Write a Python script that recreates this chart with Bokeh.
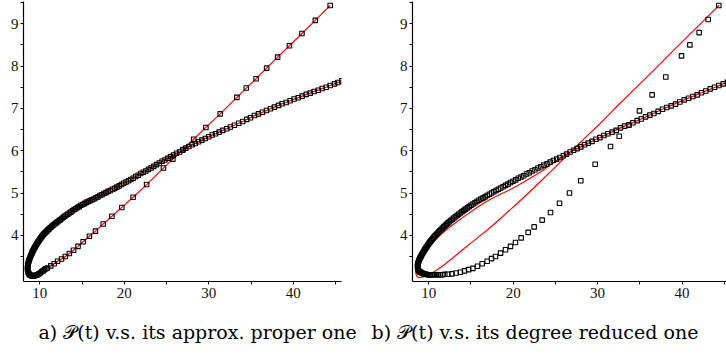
from bokeh.plotting import figure
from bokeh.layouts import row, column
from bokeh.models import FixedTicker, Range1d
from bokeh.core.properties import value
from bokeh.embed import file_html
from bokeh.resources import INLINE

# ---------------- data ----------------
# panel a: upper branch (right end -> tip), then lower branch (tip -> right end)
pa_upper_x = [45.74,45.27,44.87,44.36,43.89,43.41,42.94,42.46,41.99,41.52,41.04,40.57,40.09,39.62,39.15,38.67,38.24,37.76,37.29,36.82,36.34,35.87,35.39,34.92,34.49,34.01,33.54,33.03,32.55,32.12,31.64,
              31.22,30.80,30.39,29.98,29.58,29.18,28.79,28.40,28.02,27.64,27.27,26.90,26.54,26.18,25.83,25.48,25.14,24.80,24.47,24.14,23.81,23.49,23.17,22.86,22.55,22.24,21.94,21.64,21.35,21.06,20.77,20.49,20.21,19.93,19.66,19.39,19.12,18.86,18.60,18.34,18.09,17.84,17.59,17.35,17.11,
              16.87,16.64,16.41,16.18,15.95,15.73,15.51,15.29,15.08,14.87,14.66,14.46,14.26,14.06,13.87,13.68,13.49,13.31,13.13,12.95,12.78,12.61,12.44,12.28,12.12,11.96,11.81,11.66,11.51,11.37,11.23,11.09,10.96,10.83,10.70,10.58,10.46,10.34,10.23,10.12,10.01,9.91,9.81,9.71,9.62,9.53,9.44,9.36,9.28,9.20,9.13,9.06,8.99,8.93,8.87,8.81,8.76,8.71,8.67,8.63,8.60,8.58,8.56,8.55,8.56,8.58,8.62,8.67,8.73,8.80,8.88,8.97,9.07,9.18,9.30,9.43,9.57,9.72,9.88,10.04,10.21,10.38,10.55,10.72]
pa_upper_y = [7.65,7.61,7.58,7.54,7.50,7.47,7.43,7.40,7.36,7.33,7.29,7.25,7.22,7.18,7.14,7.11,7.07,7.03,6.99,6.95,6.91,6.87,6.83,6.78,6.74,6.69,6.65,6.60,6.56,6.52,6.48,
              6.44,6.40,6.37,6.33,6.29,6.25,6.21,6.17,6.14,6.10,6.06,6.01,5.97,5.94,5.90,5.86,5.82,5.78,5.75,5.71,5.67,5.63,5.59,5.56,5.52,5.49,5.46,5.42,5.39,5.35,5.32,5.29,5.26,5.23,5.20,5.17,5.14,5.11,5.09,5.06,5.04,5.01,4.99,4.96,4.94,
              4.91,4.89,4.86,4.84,4.82,4.80,4.78,4.75,4.73,4.71,4.68,4.66,4.63,4.61,4.58,4.55,4.53,4.50,4.48,4.45,4.43,4.40,4.37,4.35,4.32,4.30,4.28,4.25,4.23,4.20,4.18,4.15,4.13,4.10,4.08,4.05,4.03,4.00,3.97,3.94,3.91,3.88,3.85,3.82,3.79,3.76,3.73,3.70,3.67,3.64,3.61,3.58,3.55,3.52,3.49,3.46,3.43,3.40,3.37,3.34,3.31,3.28,3.25,3.22,3.19,3.16,3.13,3.11,3.09,3.07,3.06,3.05,3.04,3.04,3.04,3.05,3.06,3.07,3.09,3.11,3.14,3.16,3.19,3.21]
pa_lower_x = [10.90,11.30,11.70,12.10,12.57,13.02,13.49,13.99,14.52,15.13,15.87,16.58,17.50,18.53,19.70,21.04,22.64,24.63,25.74,26.95,28.21,29.65,31.35,33.32,34.43,35.59,36.84,38.14,39.54,41.02,42.60,44.36]
pa_lower_y = [3.23,3.28,3.33,3.39,3.44,3.50,3.57,3.65,3.74,3.85,3.98,4.10,4.27,4.45,4.66,4.90,5.20,5.59,5.80,6.03,6.27,6.55,6.87,7.26,7.48,7.70,7.95,8.21,8.48,8.77,9.08,9.43]

# panel b: P(t) squares, upper branch (right end -> tip) then lower branch
pb_upper_x = [45.39,44.88,44.36,43.85,43.34,42.82,42.31,41.80,41.28,40.77,40.26,39.74,39.23,38.72,38.20,37.69,37.18,36.66,36.19,35.68,35.16,34.69,34.18,33.70,33.19,32.71,32.20,31.73,31.21,30.74,
              30.27,29.80,29.34,28.89,28.45,28.01,27.58,27.16,26.74,26.33,25.93,25.53,25.14,24.76,24.38,24.01,23.64,23.28,22.93,22.58,22.24,21.90,21.57,21.24,20.92,20.60,20.29,19.98,19.68,19.38,19.09,18.80,18.52,18.24,17.97,17.70,17.44,17.18,
              16.92,16.67,16.42,16.18,15.94,15.70,15.47,15.24,15.01,14.79,14.57,14.36,14.15,13.94,13.74,13.54,13.35,13.16,12.97,12.79,12.61,12.43,12.26,12.09,11.93,11.77,11.61,11.46,11.31,11.16,11.02,10.88,10.75,10.62,10.49,10.37,10.25,10.13,10.02,9.91,9.81,9.71,9.61,9.52,
              9.43,9.34,9.25,9.16,9.08,9.00,8.93,8.86,8.80,8.75,8.71,8.68,8.67,8.68,8.70,8.74,8.79,8.85,8.92,9.00,9.09,9.19,9.30,9.42,9.55,9.69,9.84,10.00,10.17,10.35,10.54,10.74,10.95,11.17,11.40,11.64,11.89]
pb_upper_y = [7.62,7.58,7.54,7.50,7.46,7.41,7.37,7.32,7.28,7.24,7.20,7.15,7.10,7.06,7.02,6.98,6.93,6.88,6.84,6.80,6.75,6.71,6.66,6.61,6.58,6.54,6.48,6.44,6.40,6.36,
              6.31,6.27,6.22,6.18,6.14,6.09,6.05,6.01,5.97,5.92,5.88,5.84,5.80,5.77,5.73,5.69,5.66,5.62,5.59,5.55,5.52,5.48,5.45,5.41,5.38,5.35,5.31,5.28,5.25,5.21,5.18,5.15,5.12,5.09,5.06,5.03,5.00,4.97,
              4.94,4.91,4.88,4.86,4.83,4.80,4.77,4.74,4.71,4.68,4.65,4.62,4.59,4.56,4.53,4.50,4.47,4.44,4.41,4.38,4.35,4.32,4.29,4.26,4.23,4.20,4.17,4.14,4.11,4.08,4.05,4.02,3.99,3.96,3.93,3.90,3.87,3.84,3.81,3.78,3.75,3.72,3.69,3.66,
              3.63,3.60,3.57,3.54,3.51,3.48,3.45,3.42,3.39,3.36,3.33,3.30,3.27,3.24,3.21,3.19,3.17,3.15,3.14,3.13,3.12,3.11,3.10,3.09,3.08,3.08,3.07,3.07,3.07,3.07,3.07,3.07,3.07,3.07,3.07,3.07,3.08]
pb_lower_x = [12.25,12.74,13.24,13.74,14.23,14.72,15.22,15.77,16.32,16.92,17.43,17.90,18.50,19.09,19.68,20.27,20.94,21.77,22.48,23.43,24.42,25.49,26.67,28.01,29.71,31.53,32.56,33.70,34.96,36.46,38.08,39.94,40.93,42.03,43.10,44.36]
pb_lower_y = [3.08,3.09,3.11,3.13,3.16,3.19,3.22,3.27,3.33,3.39,3.45,3.50,3.58,3.66,3.74,3.83,3.94,4.07,4.20,4.36,4.54,4.76,5.00,5.29,5.68,6.10,6.34,6.60,6.94,7.32,7.74,8.24,8.50,8.79,9.10,9.43]

# panel b: degree reduced curve (red line)
pb_red_x = [44.40,42.00,39.50,37.00,34.50,32.00,30.34,28.60,26.99,24.62,22.50,20.50,18.50,17.00,15.50,14.00,12.80,11.80,11.00,10.30,9.70,9.20,8.85,8.60,8.47,8.50,8.62,8.80,9.05,9.40,9.96,10.70,11.54,12.50,13.52,14.50,15.50,16.50,17.46,18.50,19.44,20.50,21.50,22.50,23.50,24.50,25.50,26.50,27.58,30.27,32.71,35.16,37.69,40.26,42.82,44.88,45.60]
pb_red_y = [9.44,8.96,8.47,7.97,7.48,6.99,6.65,6.32,6.01,5.54,5.13,4.76,4.40,4.14,3.90,3.66,3.46,3.30,3.19,3.10,3.04,3.01,3.00,3.03,3.09,3.17,3.26,3.35,3.45,3.57,3.72,3.88,4.04,4.20,4.35,4.49,4.63,4.76,4.87,4.97,5.06,5.17,5.29,5.41,5.53,5.68,5.81,5.94,6.05,6.31,6.54,6.75,6.98,7.20,7.41,7.58,7.64]

x_ticks = [10, 20, 30, 40]
x_minor = [15, 25, 35, 45]
y_ticks = [4, 5, 6, 7, 8, 9]
y_minor = [3.5, 4.5, 5.5, 6.5, 7.5, 8.5, 9.5]

captions = ["a) \U0001D4AB(t) v.s. its approx. proper one",
            "b) \U0001D4AB(t) v.s. its degree reduced one"]

SERIF = "Liberation Serif"


def make_panel(width, mbl, mbr, xr):
    p = figure(width=width, height=308, x_range=Range1d(*xr), y_range=Range1d(2.91, 9.525),
               output_backend="svg", toolbar_location=None,
               min_border_left=mbl, min_border_right=mbr, min_border_top=1, min_border_bottom=27)
    p.outline_line_color = None
    p.xgrid.visible = False
    p.ygrid.visible = False
    p.background_fill_color = "white"
    p.border_fill_color = "white"
    p.xaxis.ticker = FixedTicker(ticks=x_ticks, minor_ticks=x_minor)
    p.yaxis.ticker = FixedTicker(ticks=y_ticks, minor_ticks=y_minor)
    for ax in (p.xaxis[0], p.yaxis[0]):
        ax.axis_line_color = "black"
        ax.axis_line_width = 1.2
        ax.major_tick_line_color = "black"
        ax.minor_tick_line_color = "black"
        ax.major_tick_in = 0
        ax.major_tick_out = 3
        ax.minor_tick_in = 0
        ax.minor_tick_out = 3
        ax.major_label_text_font = SERIF
        ax.major_label_text_font_size = "15px"
        ax.major_label_text_color = "#111111"
    p.xaxis.major_label_standoff = 3
    p.yaxis.major_label_standoff = 2
    return p


pa = make_panel(353, 23, 12, (8.07, 45.7))
ax_x = pa_upper_x + pa_lower_x
ax_y = pa_upper_y + pa_lower_y
pa.line(ax_x, ax_y, line_color="#ff0000", line_width=1.2)
pa.scatter(ax_x, ax_y, marker="square", size=4.5, line_color="black", line_width=1.1, fill_alpha=0)

pb = make_panel(373, 59, 0, (8.07, 45.27))
pb.line(pb_red_x, pb_red_y, line_color="#ff0000", line_width=1.2)
bx = pb_upper_x + pb_lower_x
by = pb_upper_y + pb_lower_y
pb.scatter(bx, by, marker="square", size=4.5, line_color="black", line_width=1.1, fill_alpha=0)

# caption strip below the two panels (screen-like coordinates, y downward)
cap = figure(width=726, height=51, x_range=Range1d(0, 726), y_range=Range1d(51, 0),
             x_axis_type=None, y_axis_type=None, output_backend="svg", toolbar_location=None,
             min_border=0)
cap.outline_line_color = None
cap.background_fill_color = "white"
cap.border_fill_color = "white"
cap.text(x=[38, 371], y=[23, 23], text=captions, text_font=value("DejaVu Serif"),
         text_font_size="19px", text_baseline="middle", text_align="left", text_color="black")

layout = column(row(pa, pb), cap)
open("out.html", "w").write(file_html(layout, INLINE))
